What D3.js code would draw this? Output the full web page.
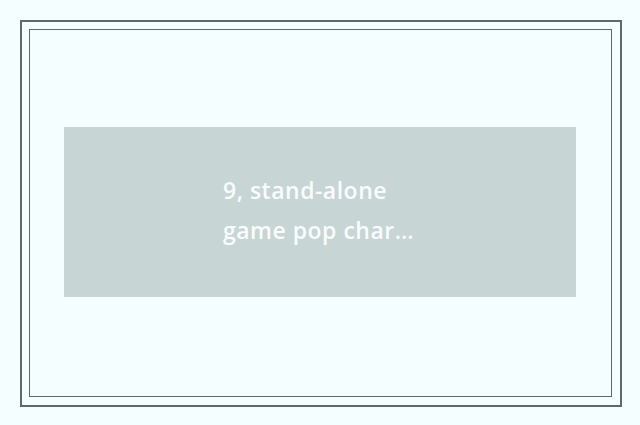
<!DOCTYPE html>
<html>
<head>
<meta charset="utf-8">
<script src="https://d3js.org/d3.v7.min.js"></script>
<style>
  html, body { margin: 0; padding: 0; background: #f4fefe; }
  svg { display: block; }
</style>
</head>
<body>
<svg width="640" height="425"></svg>
<script>
// caption lines shown in the placeholder box
var captionLines = ['9, stand-alone', 'game pop char\u2026'];
// frame layers: outer and inner border
var frames = ['outer', 'inner'];

var svg = d3.select('svg');

var W = 640, H = 425;

var frameBox = {
  outer: { x0: 21, y0: 21, x1: 621, y1: 406, w: 2 },
  inner: { x0: 29.5, y0: 29.5, x1: 611.5, y1: 396.5, w: 1 }
};

svg.append('rect')
  .attr('width', W).attr('height', H)
  .attr('fill', '#f4fefe');

svg.selectAll('rect.frame')
  .data(frames).enter().append('rect')
  .attr('class', 'frame')
  .attr('x', function(d) { return frameBox[d].x0; })
  .attr('y', function(d) { return frameBox[d].y0; })
  .attr('width', function(d) { return frameBox[d].x1 - frameBox[d].x0; })
  .attr('height', function(d) { return frameBox[d].y1 - frameBox[d].y0; })
  .attr('fill', 'none')
  .attr('stroke', '#5b6b6a')
  .attr('stroke-width', function(d) { return frameBox[d].w; });

// placeholder box
svg.append('rect')
  .attr('x', 64).attr('y', 127)
  .attr('width', 512).attr('height', 170)
  .attr('fill', '#c7d5d5');

// line positions
var lineY = d3.scaleLinear().domain([0, 1]).range([199, 239]);

svg.append('g')
  .selectAll('text')
  .data(captionLines).enter().append('text')
  .attr('x', 223)
  .attr('y', function(d, i) { return lineY(i); })
  .attr('fill', '#f9fcfc')
  .style('font-family', '"Open Sans", "Noto Sans", sans-serif')
  .style('font-weight', 600)
  .style('font-size', '23px')
  .style('letter-spacing', '0.5px')
  .text(function(d) { return d; });
</script>
</body>
</html>
